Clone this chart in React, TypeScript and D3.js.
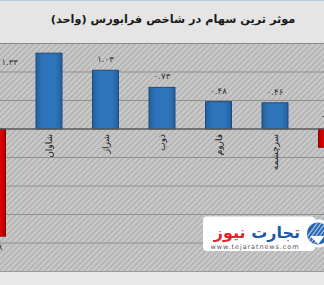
import React from "react";
import * as d3 from "d3";

const W = 324;
const H = 285;

const title = "موثر ترین سهام در شاخص فرابورس (واحد)";
const categories = ["c0", "شاوان", "شراز", "ذوب", "فاروم", "سرچشمه", "c6"];
const shownNames = ["", "شاوان", "شراز", "ذوب", "فاروم", "سرچشمه", ""];
const values = [-1.88, 1.33, 1.03, 0.73, 0.48, 0.46, -0.32];
const valueLabels = ["-۱.۸۸", "۱.۳۳", "۱.۰۳", "۰.۷۳", "۰.۴۸", "۰.۴۶", "-۰.۳۲"];
const yTicks = [-2.5, -2, -1.5, -1, -0.5, 0, 0.5, 1, 1.5];

const FONT = "'DejaVu Sans', sans-serif";

export default function App() {
  const plotTop = 43.5;
  const plotBottom = 271.5;
  const y = d3.scaleLinear().domain([-2.5, 1.5]).range([plotBottom, plotTop]);
  const x = d3
    .scaleBand<string>()
    .domain(categories)
    .range([-35.75, 359.75])
    .paddingInner(0.54)
    .paddingOuter(0.27);
  const bw = x.bandwidth();
  const y0 = y(0);

  return (
    <svg
      width={W}
      height={H}
      style={{ position: "absolute", left: 0, top: 0, display: "block" }}
      xmlns="http://www.w3.org/2000/svg"
    >
      <defs>
        <pattern id="hatch" width="4" height="4" patternUnits="userSpaceOnUse" patternTransform="rotate(45)">
          <rect width="4" height="4" fill="#b5b5b5" />
          <rect width="2" height="4" fill="#cacaca" />
        </pattern>
        <linearGradient id="blueG" x1="0" x2="1" y1="0" y2="0">
          <stop offset="0" stopColor="#245f9e" />
          <stop offset="0.25" stopColor="#2e74bb" />
          <stop offset="0.75" stopColor="#2e74bb" />
          <stop offset="1" stopColor="#245f9e" />
        </linearGradient>
        <linearGradient id="redG" x1="0" x2="1" y1="0" y2="0">
          <stop offset="0" stopColor="#b00000" />
          <stop offset="0.25" stopColor="#ee0000" />
          <stop offset="0.75" stopColor="#ee0000" />
          <stop offset="1" stopColor="#b00000" />
        </linearGradient>
        <clipPath id="plotClip">
          <rect x={0} y={plotTop} width={W} height={plotBottom - plotTop} />
        </clipPath>
        <clipPath id="logoClip">
          <circle cx={318} cy={233.5} r={11} />
        </clipPath>
      </defs>

      {/* title band */}
      <rect x={0} y={0} width={W} height={plotTop} fill="#e5e5e5" />
      <rect x={0} y={0} width={W} height={1} fill="#b7cbe2" />
      <text
        x={173}
        y={23}
        textAnchor="middle"
        fontFamily={FONT}
        fontSize={11.3}
        fontWeight="bold"
        fill="#1a1a1a"
      >
        {title}
      </text>

      {/* plot background */}
      <rect x={0} y={plotTop} width={W} height={plotBottom - plotTop} fill="url(#hatch)" />
      <line x1={0} x2={W} y1={plotTop} y2={plotTop} stroke="#8a8a8a" strokeWidth={1} />

      {/* gridlines */}
      {yTicks
        .filter((t) => t !== 0 && t !== 1.5 && t !== -2.5)
        .map((t) => (
          <line key={t} x1={0} x2={W} y1={y(t)} y2={y(t)} stroke="#8f8f8f" strokeWidth={1} />
        ))}

      {/* bottom band */}
      <rect x={0} y={plotBottom} width={W} height={H - plotBottom} fill="#e8e8e8" />
      <line x1={0} x2={W} y1={plotBottom} y2={plotBottom} stroke="#9a9a9a" strokeWidth={1} />

      <g clipPath="url(#plotClip)">
        {categories.map((c, i) => {
          const v = values[i];
          const top = Math.min(y(v), y0);
          const h = Math.abs(y(v) - y0);
          const neg = v < 0;
          return (
            <rect
              key={c}
              x={x(c)!}
              y={top}
              width={bw}
              height={h}
              fill={neg ? "url(#redG)" : "url(#blueG)"}
              stroke={neg ? "#8a0000" : "#1c4b7c"}
              strokeWidth={1}
            />
          );
        })}

        <line x1={0} x2={W} y1={y0} y2={y0} stroke="#5a5a5a" strokeWidth={1.6} />

        {categories.map((c, i) => {
          const v = values[i];
          const cx = x(c)! + bw / 2;
          let lx = cx;
          let ly = v >= 0 ? y(v) - 8 : y(v) + 14;
          let anchor: "middle" | "start" = "middle";
          if (i === 1) {
            lx = x(categories[0])! + bw - 4;
            ly = y(values[2]) - 5;
            anchor = "start";
          }
          if (i === categories.length - 1) {
            ly = y0 - 10;
          }
          return (
            <text
              key={"l" + c}
              x={lx}
              y={ly}
              textAnchor={anchor}
              fontFamily={FONT}
              fontSize={8.5}
              fill="#333"
            >
              {valueLabels[i]}
            </text>
          );
        })}

        {categories.map((c, i) => {
          const cx = x(c)! + bw / 2;
          return (
            <text
              key={"c" + c}
              transform={`translate(${cx + 3},${y0 + 5}) rotate(-90)`}
              textAnchor="end"
              fontFamily={FONT}
              fontSize={9}
              fill="#1a1a1a"
            >
              {shownNames[i]}
            </text>
          );
        })}
      </g>

      {/* logo */}
      <g>
        <rect x={203} y={216.5} width={112} height={34.5} rx={4} fill="#ffffff" />
        <circle cx={318} cy={233.5} r={14} fill="#ffffff" />
        <circle cx={318} cy={233.5} r={11} fill="#2a67b3" />
        <g clipPath="url(#logoClip)">
          {[-8, -4, 0, 4, 8].map((d) => (
            <line key={d} x1={310 + d} y1={244} x2={326 + d} y2={222} stroke="#a8c4ea" strokeWidth={1.2} />
          ))}
        </g>
        <path d="M310,236 L324,236 L318,244 Z" fill="#ffffff" />
        <text x={300} y={238} textAnchor="end" fontFamily={FONT} fontSize={16} fontWeight="bold">
          <tspan fill="#1c5aa8">تجارت</tspan>
          <tspan fill="#e3232c">{" نیوز"}</tspan>
        </text>
        <text x={255} y={249} textAnchor="middle" fontFamily={FONT} fontSize={6.5} fill="#555" letterSpacing={0.9}>
          www.tejaratnews.com
        </text>
      </g>
    </svg>
  );
}
